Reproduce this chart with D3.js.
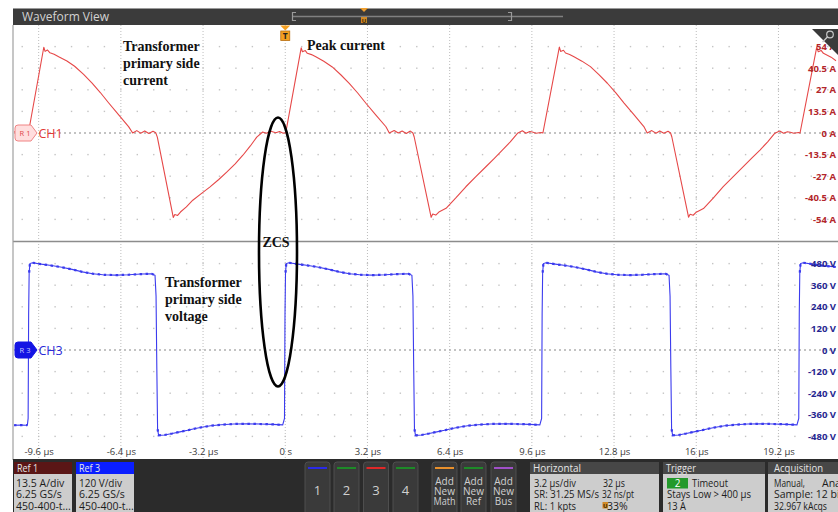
<!DOCTYPE html>
<html>
<head>
<meta charset="utf-8">
<script src="https://cdn.jsdelivr.net/npm/d3@7"></script>
<style>
  body { margin: 0; background: #fff; }
  svg { display: block; font-family: "Open Sans", "DejaVu Sans", sans-serif; }
</style>
</head>
<body>
<svg id="scope" width="838" height="512"></svg>
<script>
// ---- data -------------------------------------------------------------
const timeTicks = [-9.6, -6.4, -3.2, 0, 3.2, 6.4, 9.6, 12.8, 16, 19.2];      // µs
const currentTicks = [54, 40.5, 27, 13.5, 0, -13.5, -27, -40.5, -54];        // A
const voltageTicks = [480, 360, 240, 120, 0, -120, -240, -360, -480];        // V

// CH1: transformer primary current, [time µs, current A]
const currentTrace = [
  [-10.56, 0.6], [-10.42, 1.4], [-10.30, -0.2], [-10.16, 1.1], [-10.04, 0.2], [-10.0, 0],
  [-9.40, 53.6], [-9.35, 51.0], [-9.26, 51.9], [-9.16, 50.1], [-9.00, 49.2], [-8.82, 47.6],
  [-8.50, 45.0], [-8.20, 41.7], [-7.85, 36.6], [-7.52, 31.2], [-7.20, 25.3], [-6.88, 18.9],
  [-6.50, 11.6], [-6.10, 4.0], [-5.94, 0],
  [-5.78, 1.5], [-5.63, -0.1], [-5.47, 1.3], [-5.31, -0.3], [-5.15, 1.1], [-5.04, 0.1],
  [-4.98, -2.6], [-4.36, -52.8], [-4.30, -50.9], [-4.19, -51.5], [-4.08, -49.4], [-3.85, -46.2],
  [-3.60, -42.0], [-3.27, -37.9], [-2.94, -33.8], [-2.60, -29.2], [-2.28, -24.5], [-1.95, -19.3],
  [-1.65, -13.9], [-1.36, -8.1], [-1.11, -2.6], [-0.88, 0.6], [-0.74, -0.2], [-0.56, 1.1],
  [-0.37, 0.2], [-0.22, 0.9], [-0.08, -0.1], [0.02, 0.2],
  [0.62, 53.2], [0.67, 50.8], [0.78, 51.5], [0.86, 49.8], [1.02, 49.0], [1.19, 47.6],
  [1.50, 44.8], [1.83, 41.3], [2.16, 36.4], [2.49, 31.0], [2.82, 25.0], [3.14, 18.6],
  [3.53, 11.2], [3.92, 3.9], [4.05, 0],
  [4.24, 1.6], [4.40, 0], [4.55, 1.2], [4.71, -0.3], [4.87, 1.2], [4.97, 0],
  [5.02, -2.5], [5.68, -52.7], [5.74, -50.6], [5.86, -51.3], [5.98, -49.4], [6.26, -47.1],
  [6.64, -40.6], [7.03, -33.6], [7.42, -27.3], [7.81, -21.1], [8.14, -15.8], [8.46, -10.6],
  [8.76, -5.6], [9.04, -0.2], [9.23, 1.4], [9.37, -0.2], [9.52, 0.9], [9.62, 0.6],
  [9.76, -0.2], [9.96, 0.3], [10.03, 0],
  [10.67, 53.7], [10.72, 51.0], [10.83, 51.7], [10.91, 50.0], [11.07, 49.1], [11.24, 47.6],
  [11.55, 44.9], [11.88, 41.5], [12.21, 36.5], [12.54, 31.1], [12.87, 25.1], [13.19, 18.7],
  [13.58, 11.3], [13.96, 4.0], [14.09, 0],
  [14.27, 1.5], [14.43, -0.1], [14.58, 1.3], [14.74, -0.2], [14.90, 1.1], [15.00, 0],
  [15.05, -2.5], [15.70, -52.6], [15.76, -50.8], [15.88, -51.4], [16.00, -49.5], [16.28, -47.2],
  [16.66, -40.7], [17.05, -33.5], [17.44, -27.2], [17.83, -21.0], [18.16, -15.7], [18.48, -10.7],
  [18.78, -5.5], [19.06, -0.1], [19.25, 1.3], [19.40, -0.2], [19.55, 0.8], [19.66, 0.5],
  [19.80, -0.2], [19.98, 0.3], [20.04, 0],
  [20.69, 53.7], [20.75, 50.8], [20.86, 51.6], [20.95, 49.8], [21.10, 48.6], [21.25, 47.4],
  [21.44, 45.2]
];

// CH3: transformer primary voltage, [time µs, voltage V]
const voltageTrace = [
  [-10.56, -418], [-10.30, -417], [-10.04, -418], [-10.01, -380], [-9.99, 200], [-9.97, 430],
  [-9.94, 480], [-9.84, 485], [-9.50, 477], [-9.10, 469], [-8.70, 460], [-8.30, 448],
  [-7.90, 434], [-7.50, 424], [-7.10, 418], [-6.60, 416], [-6.10, 418], [-5.60, 422],
  [-5.20, 423], [-5.07, 415], [-5.03, 300], [-5.00, -100], [-4.97, -440], [-4.93, -474],
  [-4.70, -472], [-4.40, -464], [-4.10, -455], [-3.80, -446], [-3.50, -436], [-3.20, -428],
  [-2.90, -421], [-2.50, -415], [-2.00, -411], [-1.50, -410], [-1.00, -411], [-0.50, -413],
  [-0.10, -416], [-0.03, -380], [-0.01, 200], [0.01, 430], [0.04, 480], [0.14, 485],
  [0.50, 477], [0.90, 469], [1.30, 460], [1.70, 448], [2.10, 434], [2.50, 424],
  [2.90, 418], [3.40, 416], [3.90, 418], [4.40, 422], [4.80, 423], [4.93, 415],
  [4.97, 300], [5.00, -100], [5.03, -440], [5.07, -474],
  [5.30, -472], [5.60, -464], [5.90, -455], [6.20, -446], [6.50, -436], [6.80, -428],
  [7.10, -421], [7.50, -415], [8.00, -411], [8.50, -410], [9.00, -411], [9.50, -413],
  [9.91, -416], [9.98, -380], [10.00, 200], [10.02, 430], [10.05, 480], [10.15, 485],
  [10.51, 477], [10.91, 469], [11.31, 460], [11.71, 448], [12.11, 434], [12.51, 424],
  [12.91, 418], [13.41, 416], [13.91, 418], [14.41, 422], [14.81, 423], [14.94, 415],
  [14.98, 300], [15.01, -100], [15.04, -440], [15.08, -474],
  [15.31, -472], [15.61, -464], [15.91, -455], [16.21, -446], [16.51, -436], [16.81, -428],
  [17.11, -421], [17.51, -415], [18.01, -411], [18.51, -410], [19.01, -411], [19.51, -413],
  [19.92, -416], [19.99, -380], [20.01, 200], [20.03, 430], [20.06, 480], [20.16, 485],
  [20.52, 477], [20.92, 469], [21.32, 463], [21.44, 461]
];

// ---- layout -----------------------------------------------------------
const svg = d3.select("#scope");
const PL = 14, PR = 836;
const x  = d3.scaleLinear().domain([-10.56, 21.44]).range([PL, PR]);
const yI = d3.scaleLinear().domain([-67.5, 67.5]).range([241, 25]);
const yV = d3.scaleLinear().domain([-600, 600]).range([458, 242]);

const CUR = "#e64848", VOLT = "#3b3bee";

// shrink a text horizontally when it runs wider than its slot
function fit(sel, w) {
  const n = sel.node();
  if (w && n.getComputedTextLength() > w) {
    sel.attr("textLength", w).attr("lengthAdjust", "spacingAndGlyphs");
  }
  return sel;
}

svg.append("rect").attr("width", 838).attr("height", 512).attr("fill", "#fff");

// clip regions for the two waveform panes
const defs = svg.append("defs");
defs.append("clipPath").attr("id", "clipTop").append("rect")
  .attr("x", PL).attr("y", 25).attr("width", PR - PL + 2).attr("height", 216);
defs.append("clipPath").attr("id", "clipBot").append("rect")
  .attr("x", PL).attr("y", 242).attr("width", PR - PL + 2).attr("height", 216);

// ---- graticule --------------------------------------------------------
const grid = svg.append("g");
const minorT = d3.range(-16, 34).map(k => k * 0.64).filter(t => x(t) > PL + 2 && x(t) < PR);
const rowsTop = [-54, -40.5, -27, -13.5, 13.5, 27, 40.5, 54].map(v => yI(v));
const rowsBot = [-480, -360, -240, -120, 120, 240, 360, 480].map(v => yV(v));
[...rowsTop, ...rowsBot].forEach(yy => {
  grid.selectAll(null).data(minorT).enter().append("rect")
    .attr("x", t => x(t) - 0.7).attr("y", yy - 0.7)
    .attr("width", 1.4).attr("height", 1.4).attr("fill", "#c4c4c4");
});
// major vertical lines
grid.selectAll("line.vmaj").data(timeTicks).enter().append("line")
  .attr("x1", t => x(t)).attr("x2", t => x(t)).attr("y1", 25).attr("y2", 458)
  .attr("stroke", "#bdbdbd").attr("stroke-width", 1).attr("stroke-dasharray", "1,2");
// zero lines
[yI(0), yV(0)].forEach(yy => {
  grid.append("line").attr("x1", PL).attr("x2", PR).attr("y1", yy).attr("y2", yy)
    .attr("stroke", "#b0b0b0").attr("stroke-width", 1.4).attr("stroke-dasharray", "2,3");
});

// pane frames
svg.append("line").attr("x1", 13).attr("x2", 838).attr("y1", 241.5).attr("y2", 241.5)
  .attr("stroke", "#8c8c8c").attr("stroke-width", 1.5);
svg.append("line").attr("x1", 13).attr("x2", 13).attr("y1", 25).attr("y2", 460)
  .attr("stroke", "#a0a0a0").attr("stroke-width", 1.2);

// ---- waveforms --------------------------------------------------------
const lineI = d3.line().x(d => x(d[0])).y(d => yI(d[1]));
const lineV = d3.line().x(d => x(d[0])).y(d => yV(d[1]));

svg.append("path").datum(currentTrace).attr("clip-path", "url(#clipTop)")
  .attr("d", lineI).attr("fill", "none").attr("stroke", CUR).attr("stroke-width", 1.1)
  .attr("stroke-linejoin", "round");

svg.append("path").datum(voltageTrace).attr("clip-path", "url(#clipBot)")
  .attr("d", lineV).attr("fill", "none").attr("stroke", VOLT).attr("stroke-width", 1.1);
// sample-point texture on the flat plateaus
svg.append("path").datum(voltageTrace).attr("clip-path", "url(#clipBot)")
  .attr("d", lineV.defined(d => Math.abs(d[1]) >= 405))
  .attr("fill", "none").attr("stroke", VOLT).attr("stroke-width", 2.2)
  .attr("stroke-dasharray", "2.5,3.5");

// ---- axes -------------------------------------------------------------
const axT = svg.append("g").attr("transform", "translate(0,445)")
  .call(d3.axisBottom(x).tickValues(timeTicks).tickSize(0).tickPadding(3)
    .tickFormat(d => d === 0 ? "0 s" : d + " µs"));
axT.select(".domain").remove();
axT.selectAll("text").attr("fill", "#3a3a3a").style("font-size", "9.5px")
  .style("font-family", "'Open Sans', sans-serif");

const axI = svg.append("g").attr("transform", "translate(837,0)")
  .call(d3.axisLeft(yI).tickValues(currentTicks).tickSize(0).tickPadding(1)
    .tickFormat(d => d + " A"));
axI.select(".domain").remove();
axI.selectAll("text").attr("fill", "#b3262b").style("font-size", "9.5px")
  .style("font-weight", "bold").style("font-family", "'Open Sans', sans-serif");

const axV = svg.append("g").attr("transform", "translate(837,0)")
  .call(d3.axisLeft(yV).tickValues(voltageTicks).tickSize(0).tickPadding(1)
    .tickFormat(d => d + " V"));
axV.select(".domain").remove();
axV.selectAll("text").attr("fill", "#262690").style("font-size", "9.5px")
  .style("font-weight", "bold").style("font-family", "'Open Sans', sans-serif");

// zoom handle in the corner
svg.append("path").attr("d", "M812,29 H838 V55 Z").attr("fill", "#3a3a3a");
svg.append("circle").attr("cx", 830).attr("cy", 34.5).attr("r", 3.3)
  .attr("fill", "none").attr("stroke", "#c8c8c8").attr("stroke-width", 1.2);
svg.append("line").attr("x1", 827.7).attr("y1", 36.8).attr("x2", 822.5).attr("y2", 42)
  .attr("stroke", "#c8c8c8").attr("stroke-width", 1.4);

// ---- channel tags -----------------------------------------------------
function tag(yy, fill, stroke, label, labelFill, name, nameFill) {
  const g = svg.append("g");
  g.append("path")
    .attr("d", `M15,${yy - 5} q0,-3 3,-3 h13 l6,8 l-6,8 h-13 q-3,0 -3,-3 z`)
    .attr("fill", fill).attr("stroke", stroke).attr("stroke-width", 1);
  g.append("text").attr("x", 25).attr("y", yy + 2.6).attr("text-anchor", "middle")
    .attr("fill", labelFill).style("font-size", "7.5px").text(label);
  g.append("text").attr("x", 38.5).attr("y", yy + 4.5).attr("fill", nameFill)
    .style("font-size", "12.5px").text(name);
}
tag(yI(0), "#ffdede", "#f08484", "R 1", "#e04848", "CH1", "#e23a36");
tag(yV(0), "#1414e4", "#1414e4", "R 3", "#c8c8ff", "CH3", "#2a2ad8");

// ---- header bar -------------------------------------------------------
svg.append("rect").attr("x", 13).attr("y", 8).attr("width", 825).attr("height", 17).attr("fill", "#3b3b3b");
svg.append("line").attr("x1", 13).attr("x2", 838).attr("y1", 8.5).attr("y2", 8.5)
  .attr("stroke", "#9a9a9a").attr("stroke-width", 1);
svg.append("text").attr("x", 22).attr("y", 21).attr("fill", "#d2d2d2")
  .style("font-size", "12px").text("Waveform View");
svg.append("line").attr("x1", 292).attr("x2", 563).attr("y1", 16.5).attr("y2", 16.5)
  .attr("stroke", "#808080").attr("stroke-width", 1.5);
svg.append("path").attr("d", "M296,12.5 h-3.5 v8 h3.5 M508,12.5 h3.5 v8 h-3.5")
  .attr("fill", "none").attr("stroke", "#9a9a9a").attr("stroke-width", 1.2);
svg.append("path").attr("d", "M360,8 h8 l-4,4 z").attr("fill", "#f0a030");
svg.append("rect").attr("x", 361).attr("y", 17).attr("width", 6).attr("height", 6)
  .attr("fill", "#d08a28");
svg.append("text").attr("x", 364).attr("y", 22.5).attr("text-anchor", "middle")
  .attr("fill", "#3b2400").style("font-size", "6px").style("font-weight", "bold").text("U");

// trigger marker
svg.append("path").attr("d", `M${x(0) - 5},25.5 h10 l-5,5 z`).attr("fill", "#f5a020");
svg.append("rect").attr("x", x(0) - 4.5).attr("y", 31).attr("width", 9).attr("height", 9.5)
  .attr("fill", "#f5a020").attr("stroke", "#b86e10").attr("stroke-width", 0.8);
svg.append("text").attr("x", x(0)).attr("y", 39).attr("text-anchor", "middle")
  .attr("fill", "#1e1e1e").style("font-size", "8.5px").style("font-weight", "bold").text("T");

// ---- annotations ------------------------------------------------------
const serif = "'Liberation Serif', 'Times New Roman', serif";
function note(xx, lines, y0) {
  lines.forEach((s, i) => {
    svg.append("text").attr("x", xx).attr("y", y0 + i * 17).attr("fill", "#111")
      .style("font-family", serif).style("font-weight", "bold").style("font-size", "14px").text(s);
  });
}
note(123, ["Transformer", "primary side", "current"], 51);
note(307, ["Peak current"], 50);
note(165, ["Transformer", "primary side", "voltage"], 287);
svg.append("text").attr("x", 276).attr("y", 247).attr("text-anchor", "middle").attr("fill", "#111")
  .style("font-family", serif).style("font-weight", "bold").style("font-size", "14px").text("ZCS");
svg.append("ellipse").attr("cx", 278).attr("cy", 252).attr("rx", 19).attr("ry", 134.5)
  .attr("fill", "none").attr("stroke", "#000").attr("stroke-width", 2.6);

// ---- status bar -------------------------------------------------------
const bar = svg.append("g");
bar.append("rect").attr("x", 13).attr("y", 459).attr("width", 825).attr("height", 53).attr("fill", "#2b2b2b");

function infoBox(x0, w, title, titleW, headFill, rows) {
  bar.append("rect").attr("x", x0).attr("y", 462).attr("width", w).attr("height", 12)
    .attr("fill", headFill);
  bar.append("rect").attr("x", x0).attr("y", 474).attr("width", w).attr("height", 38)
    .attr("fill", "#cdcdcd");
  fit(bar.append("text").attr("x", x0 + 3).attr("y", 472).attr("fill", "#e6e6e6")
    .style("font-size", "10.5px").text(title), titleW);
  rows.forEach(r => {
    fit(bar.append("text").attr("x", x0 + r[0]).attr("y", r[1]).attr("fill", "#1c1c1c")
      .style("font-size", "10.5px").text(r[2]), r[3]);
  });
}
infoBox(14, 58, "Ref 1", 21, "#5a1616",
  [[2, 487, "13.5 A/div", 55], [2, 498, "6.25 GS/s", 47], [2, 509.5, "450-400-t...", 55]]);
infoBox(76, 58, "Ref 3", 21, "#0a1eff",
  [[3, 487, "120 V/div", 43], [3, 498, "6.25 GS/s", 47], [3, 509.5, "450-400-t...", 55]]);

function button(x0, barColor, lines, size, y0, w) {
  bar.append("rect").attr("x", x0).attr("y", 462).attr("width", 25).attr("height", 54).attr("rx", 3)
    .attr("fill", "#3a3a3a").attr("stroke", "#4e4e4e");
  bar.append("rect").attr("x", x0 + 3).attr("y", 467).attr("width", 19).attr("height", 2)
    .attr("fill", barColor);
  lines.forEach((s, i) => {
    fit(bar.append("text").attr("x", x0 + 12.5).attr("y", y0 + i * 10).attr("text-anchor", "middle")
      .attr("fill", "#d0d0d0").style("font-size", size).text(s), w);
  });
}
button(305, "#2a2ae8", ["1"], "13px", 495);
button(334, "#1e8a28", ["2"], "13px", 495);
button(363.5, "#e02828", ["3"], "13px", 495);
button(393, "#1e8a28", ["4"], "13px", 495);
button(432, "#e8902c", ["Add", "New", "Math"], "10px", 485, 22);
button(461, "#1e8a28", ["Add", "New", "Ref"], "10px", 485, 22);
button(491, "#a050c8", ["Add", "New", "Bus"], "10px", 485, 22);

infoBox(530, 129, "Horizontal", 48, "#474747", [
  [4, 487, "3.2 µs/div", 42], [73, 487, "32 µs", 22],
  [4, 498, "SR: 31.25 MS/s", 65], [72, 498, "32 ns/pt", 32],
  [4, 509.5, "RL: 1 kpts", 42], [77, 509.5, "33%", 23]]);
bar.append("rect").attr("x", 602.5).attr("y", 502).attr("width", 5.5).attr("height", 6.5).attr("fill", "#d08a28");
bar.append("text").attr("x", 605.2).attr("y", 507.5).attr("text-anchor", "middle")
  .attr("fill", "#3b2400").style("font-size", "6px").style("font-weight", "bold").text("U");

infoBox(663, 102, "Trigger", 30, "#474747", [
  [29, 487, "Timeout", 36], [4, 498, "Stays Low > 400 µs", 84], [4, 509.5, "13 A", 19]]);
bar.append("rect").attr("x", 667).attr("y", 478).attr("width", 21).attr("height", 10.5).attr("fill", "#23992b");
bar.append("text").attr("x", 677.5).attr("y", 487).attr("text-anchor", "middle")
  .attr("fill", "#fff").style("font-size", "10px").text("2");

defs.append("clipPath").attr("id", "clipAcq").append("rect")
  .attr("x", 768).attr("y", 462).attr("width", 70).attr("height", 50);
const acq = bar.append("g").attr("clip-path", "url(#clipAcq)");
acq.append("rect").attr("x", 768).attr("y", 462).attr("width", 80).attr("height", 12).attr("fill", "#474747");
acq.append("rect").attr("x", 768).attr("y", 474).attr("width", 80).attr("height", 38).attr("fill", "#cdcdcd");
fit(acq.append("text").attr("x", 774).attr("y", 472).attr("fill", "#e6e6e6").style("font-size", "10.5px")
  .text("Acquisition"), 49);
[[487, "Manual,", 31], [498, "Sample: 12 bit", 70], [509.5, "32.967 kAcqs", 53]].forEach(r => {
  fit(acq.append("text").attr("x", 774).attr("y", r[0]).attr("fill", "#1c1c1c").style("font-size", "10.5px")
    .text(r[1]), r[2]);
});
acq.append("text").attr("x", 822).attr("y", 487).attr("fill", "#1c1c1c").style("font-size", "10.5px").text("Ana");
</script>
</body>
</html>
